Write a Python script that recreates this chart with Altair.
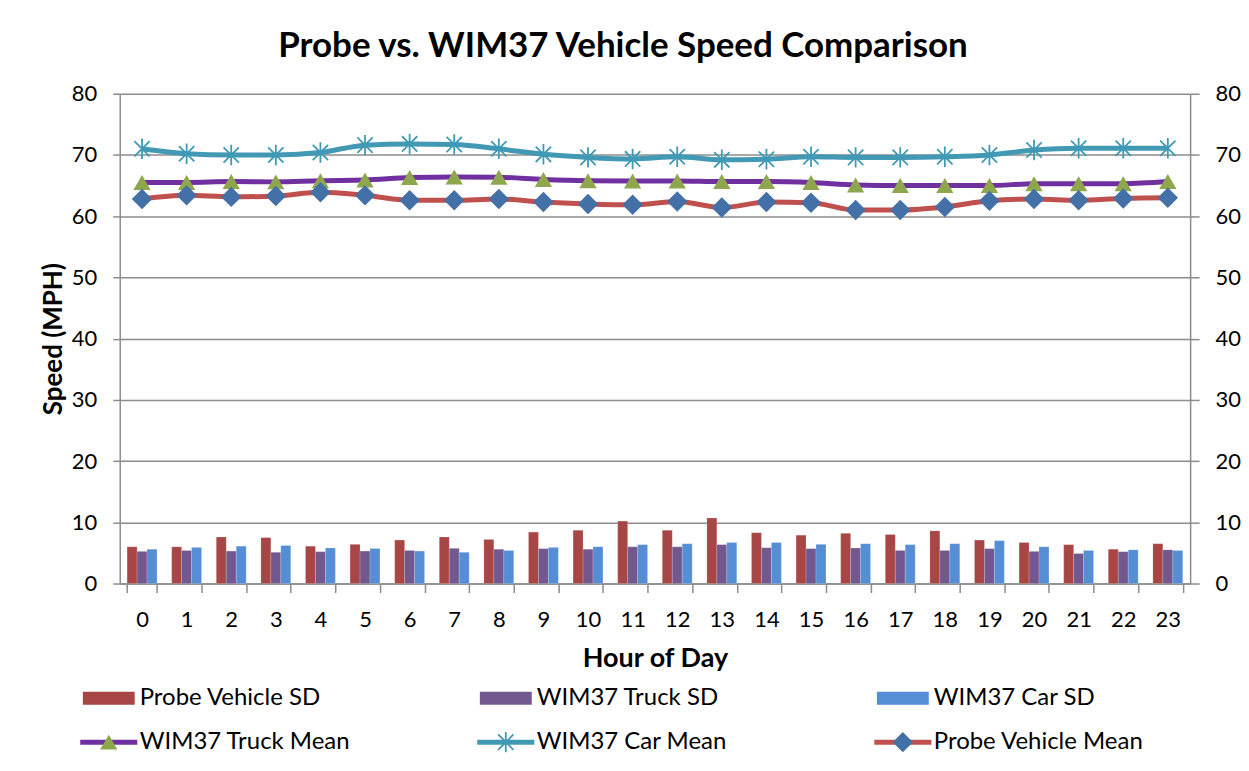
import altair as alt
import pandas as pd

# ---------------- data ----------------
hours = list(range(24))

probe_sd = [6.0, 6.0, 7.6, 7.5, 6.1, 6.4, 7.1, 7.6, 7.2, 8.4, 8.7, 10.2,
            8.7, 10.7, 8.3, 7.9, 8.2, 8.0, 8.6, 7.1, 6.7, 6.35, 5.6, 6.5]
truck_sd = [5.25, 5.4, 5.3, 5.1, 5.2, 5.3, 5.4, 5.75, 5.6, 5.7, 5.6, 6.0,
            6.0, 6.35, 5.85, 5.7, 5.8, 5.4, 5.4, 5.7, 5.25, 4.9, 5.2, 5.5]
car_sd = [5.6, 5.9, 6.1, 6.2, 5.8, 5.7, 5.3, 5.1, 5.4, 5.9, 6.0, 6.35,
          6.5, 6.7, 6.7, 6.4, 6.5, 6.35, 6.5, 7.0, 6.0, 5.4, 5.5, 5.4]

truck_mean = [65.5, 65.5, 65.65, 65.6, 65.8, 65.9, 66.3, 66.4, 66.35, 66.0, 65.8, 65.75,
              65.75, 65.65, 65.65, 65.5, 65.1, 65.0, 65.0, 65.0, 65.3, 65.3, 65.3, 65.65]
car_mean = [71.0, 70.2, 70.0, 70.0, 70.4, 71.6, 71.8, 71.7, 71.0, 70.1, 69.6, 69.35,
            69.7, 69.2, 69.3, 69.7, 69.6, 69.6, 69.7, 70.0, 70.8, 71.1, 71.1, 71.1]
probe_mean = [62.8, 63.4, 63.15, 63.3, 63.9, 63.4, 62.6, 62.6, 62.8, 62.3, 62.0, 61.85,
              62.4, 61.4, 62.3, 62.2, 61.0, 61.0, 61.5, 62.5, 62.8, 62.6, 62.9, 63.0]

bar_names = ["Probe Vehicle SD", "WIM37 Truck SD", "WIM37 Car SD"]
bar_colors = ["#A84645", "#72588F", "#558ED5"]
line_names = ["WIM37 Truck Mean", "WIM37 Car Mean", "Probe Vehicle Mean"]
line_colors = ["#7030A0", "#4299B4", "#C0504D"]
marker_colors = ["#8EA64C", "#3E9AB5", "#4470A8"]

y_ticks = list(range(0, 81, 10))

FONT = "Lato"
GRAY = "#8C8C8C"
ASTERISK = "M0,-1L0,1M-0.75,-0.75L0.75,0.75M-0.75,0.75L0.75,-0.75"

# ---------------- tables ----------------
bars_df = pd.DataFrame(
    [{"hour": h, "series": n, "value": v}
     for n, vals in zip(bar_names, [probe_sd, truck_sd, car_sd])
     for h, v in zip(hours, vals)]
)
lines_df = pd.DataFrame(
    [{"hour": h, "line": n, "value": v}
     for n, vals in zip(line_names, [truck_mean, car_mean, probe_mean])
     for h, v in zip(hours, vals)]
)

x_enc = alt.X(
    "hour:O",
    scale=alt.Scale(paddingInner=0.33, paddingOuter=0.165),
    axis=alt.Axis(
        title="Hour of Day", labelAngle=0, tickBand="extent", tickSize=9,
        tickColor=GRAY, domainColor=GRAY, domainWidth=1.5, tickWidth=1.5,
        labelFont=FONT, labelFontSize=22, labelColor="black", labelPadding=17,
        titleFont=FONT, titleFontSize=27, titleFontWeight="bold", titleColor="black",
        titlePadding=15, grid=False,
    ),
)

y_scale = alt.Scale(domain=[0, 80], nice=False)

bars = alt.Chart(bars_df).mark_bar(stroke="white", strokeOpacity=0.35, strokeWidth=0.5).encode(
    x=x_enc,
    xOffset=alt.XOffset("series:N", sort=bar_names, scale=alt.Scale(paddingInner=0)),
    y=alt.Y(
        "value:Q", scale=y_scale,
        axis=alt.Axis(
            title="Speed (MPH)", values=y_ticks, orient="left", grid=True,
            gridColor=GRAY, gridWidth=1.5, tickSize=7, tickColor=GRAY, tickWidth=1.5,
            domainColor=GRAY, domainWidth=1.5,
            labelFont=FONT, labelFontSize=22, labelColor="black", labelPadding=16,
            titleFont=FONT, titleFontSize=26, titleFontWeight="bold", titleColor="black",
            titlePadding=5,
        ),
    ),
    color=alt.Color("series:N", scale=alt.Scale(domain=bar_names, range=bar_colors), legend=None),
)

y_right = alt.Y(
    "value:Q", scale=y_scale,
    axis=alt.Axis(
        title=None, values=y_ticks, orient="right", grid=False,
        tickSize=9, tickColor=GRAY, tickWidth=1.5, domainColor=GRAY, domainWidth=1.5,
        labelFont=FONT, labelFontSize=22, labelColor="black", labelPadding=16,
    ),
)

lines = alt.Chart(lines_df).mark_line(interpolate="monotone", strokeWidth=5).encode(
    x=alt.X("hour:O"),
    y=y_right,
    color=alt.Color("line:N", scale=alt.Scale(domain=line_names, range=line_colors), legend=None),
)

tri_df = lines_df[lines_df.line == line_names[0]]
car_df = lines_df[lines_df.line == line_names[1]]
dia_df = lines_df[lines_df.line == line_names[2]]

tri = alt.Chart(tri_df).mark_point(shape="triangle-up", filled=True, size=300, opacity=1,
                                   color=marker_colors[0]).encode(x="hour:O", y=y_right)
star = alt.Chart(car_df).mark_point(shape=ASTERISK, filled=False, size=420, opacity=1,
                                    strokeWidth=1.8, color=marker_colors[1]).encode(x="hour:O", y=y_right)
dia = alt.Chart(dia_df).mark_point(shape="diamond", filled=True, size=420, opacity=1,
                                   color=marker_colors[2]).encode(x="hour:O", y=y_right)

line_layer = alt.layer(lines, tri, star, dia)

main = alt.layer(bars, line_layer).resolve_scale(y="independent", color="independent").properties(
    width=1073, height=491,
    title=alt.TitleParams(
        "Probe vs. WIM37 Vehicle Speed Comparison", font=FONT, fontSize=35,
        fontWeight="bold", color="black", anchor="middle", frame="group", dx=-32, offset=19,
    ),
)

# ---------------- legend ----------------
leg_names = bar_names + line_names
leg_cols = [0, 1, 2, 0, 1, 2]
leg_rows = [0, 0, 0, 1, 1, 1]
leg_df = pd.DataFrame({"name": leg_names, "col": leg_cols, "row": leg_rows})

lx = alt.X("col:Q", scale=alt.Scale(domain=[0.0276, 2.7236], nice=False, zero=False), axis=None)
ly = alt.Y("row:Q", scale=alt.Scale(domain=[-0.5, 1.5], reverse=True, nice=False, zero=False), axis=None)

RECT = "M-2,-0.5L2,-0.5L2,0.5L-2,0.5Z"
LINE = "M-2.2,0L2.2,0"

sw_bars = alt.Chart(leg_df[leg_df.row == 0]).mark_point(shape=RECT, filled=True, size=676, opacity=1).encode(
    x=lx, y=ly,
    color=alt.Color("name:N", scale=alt.Scale(domain=bar_names, range=bar_colors), legend=None),
)
sw_lines = alt.Chart(leg_df[leg_df.row == 1]).mark_point(shape=LINE, filled=False, size=676, opacity=1,
                                                        strokeWidth=5).encode(
    x=lx, y=ly,
    color=alt.Color("name:N", scale=alt.Scale(domain=line_names, range=line_colors), legend=None),
)
lg_tri = alt.Chart(leg_df[leg_df.name == line_names[0]]).mark_point(
    shape="triangle-up", filled=True, size=300, opacity=1, color=marker_colors[0]).encode(x=lx, y=ly)
lg_star = alt.Chart(leg_df[leg_df.name == line_names[1]]).mark_point(
    shape=ASTERISK, filled=False, size=420, opacity=1, strokeWidth=1.8, color=marker_colors[1]).encode(x=lx, y=ly)
lg_dia = alt.Chart(leg_df[leg_df.name == line_names[2]]).mark_point(
    shape="diamond", filled=True, size=420, opacity=1, color=marker_colors[2]).encode(x=lx, y=ly)
lg_text = alt.Chart(leg_df).mark_text(align="left", baseline="middle", dx=31, font=FONT,
                                      fontSize=24, color="black").encode(x=lx, y=ly, text="name:N")

legend = alt.layer(sw_bars, sw_lines, lg_tri, lg_star, lg_dia, lg_text).resolve_scale(
    color="independent").properties(width=1073, height=88)

chart = alt.vconcat(main, legend, spacing=5).resolve_scale(color="independent").properties(
    padding={"left": 32, "top": 20, "right": 0, "bottom": 0},
).configure(background="white").configure_view(strokeWidth=0, stroke="transparent")

chart.save("out.html", embed_options={"renderer": "svg", "actions": False})
